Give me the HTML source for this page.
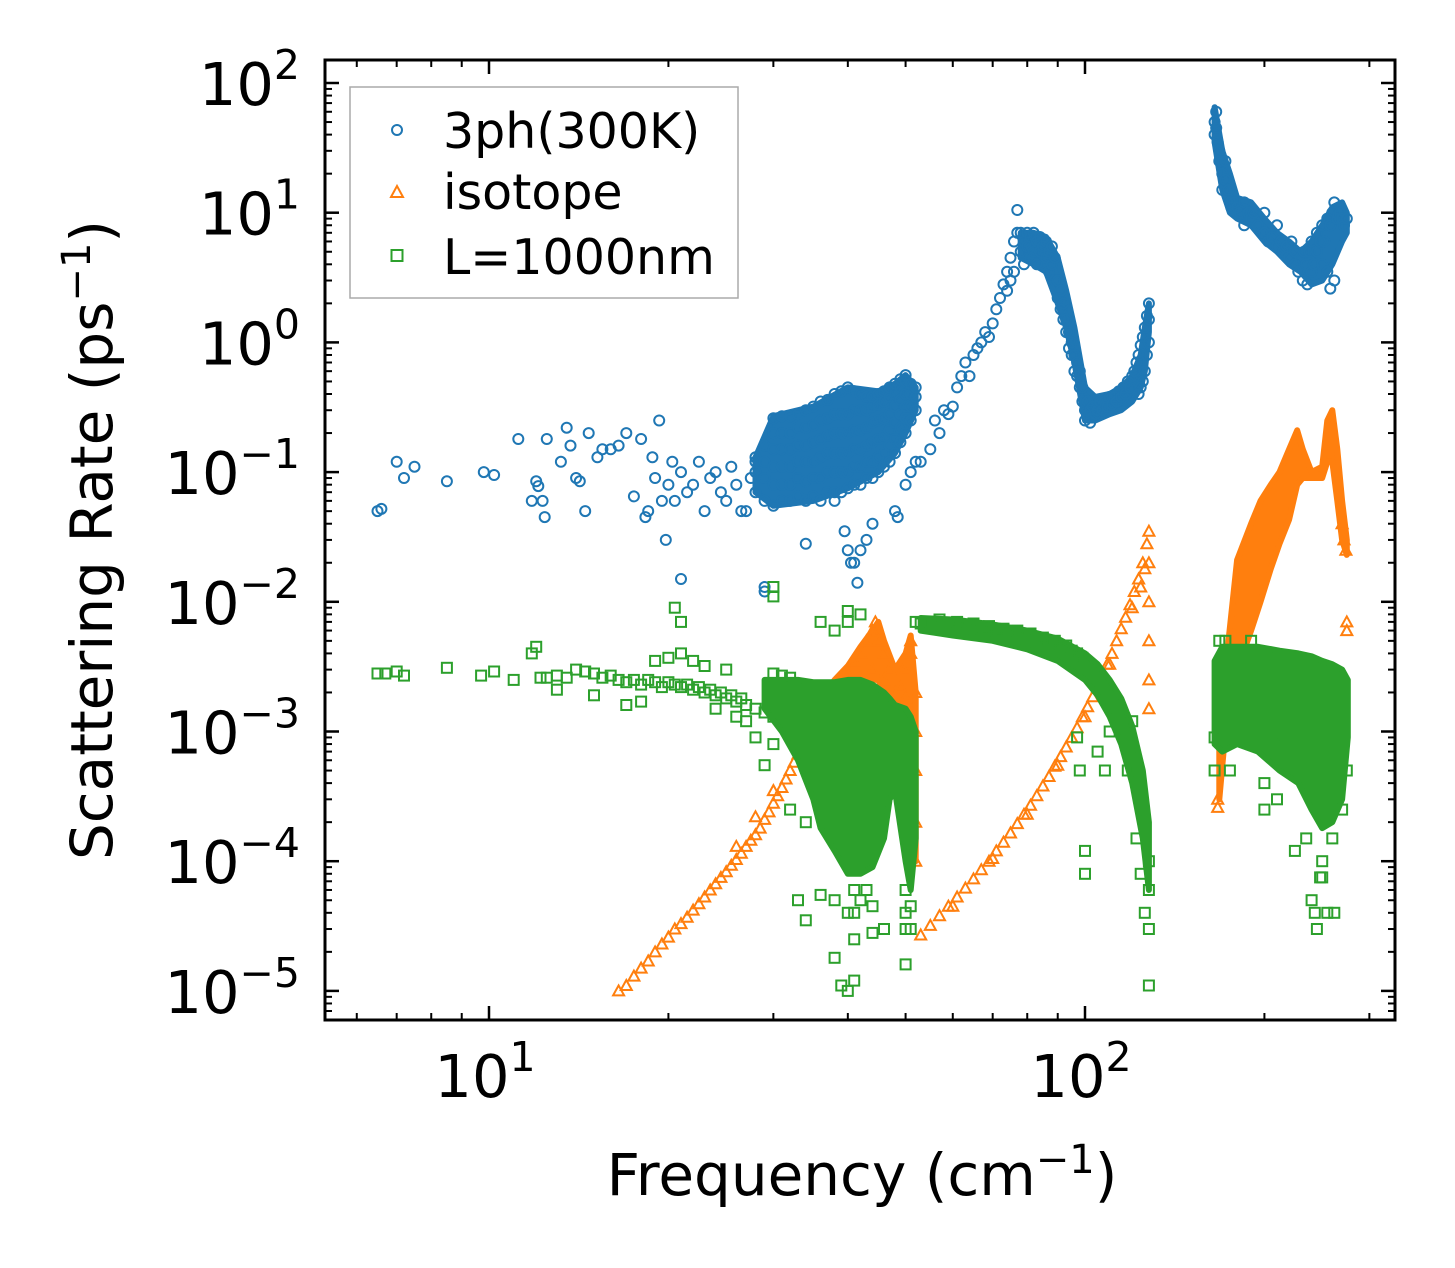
<!DOCTYPE html>
<html><head><meta charset="utf-8">
<style>
html,body{margin:0;padding:0;background:#fff;}
svg{display:block;font-family:"DejaVu Sans","Liberation Sans",sans-serif;}
</style></head>
<body>
<svg id="chart" width="1455" height="1268" viewBox="0 0 1455 1268">
<g id="marks"></g>
<g id="axes"></g>
<text x="862" y="1195" font-size="58" text-anchor="middle">Frequency (cm<tspan dy="-22" font-size="40">−1</tspan><tspan dy="22">)</tspan></text>
<text transform="translate(112,540) rotate(-90)" font-size="58" text-anchor="middle">Scattering Rate (ps<tspan dy="-22" font-size="40">−1</tspan><tspan dy="22">)</tspan></text>
<g>
<rect x="350" y="87" width="388" height="211" fill="#fff" fill-opacity="0.8" stroke="#aaa" stroke-width="1.5"/>
<circle cx="397" cy="130" r="5" fill="none" stroke="#1f77b4" stroke-width="2"/>
<text x="443" y="148" font-size="49">3ph(300K)</text>
<path d="M391,197 L403,197 L397,186 Z" fill="none" stroke="#ff7f0e" stroke-width="2"/>
<text x="443" y="209" font-size="49">isotope</text>
<rect x="391.5" y="250" width="11" height="11" fill="none" stroke="#2ca02c" stroke-width="2"/>
<text x="443" y="274" font-size="49">L=1000nm</text>
</g>
</svg>
<script>
// ---- data ----
const xTickValues = [10, 100];
const xTickLabels = ["1", "2"];
const yTickValues = [1e2, 1e1, 1e0, 1e-1, 1e-2, 1e-3, 1e-4, 1e-5];
const yTickLabels = ["2", "1", "0", "−1", "−2", "−3", "−4", "−5"];

// dense regions: [frequency, low rate, high rate]
const blueBand1 = [[28,0.07,0.13],[30,0.055,0.27],[35,0.06,0.32],[40,0.075,0.45],[45,0.1,0.42],[48,0.14,0.48],[50,0.2,0.56],[52,0.3,0.45]];
const blueBand2 = [[78,4.5,7],[82,4,7],[86,3.5,6.5],[90,2,4.5],[93,1.3,2.5],[96,0.7,1.3],[100,0.25,0.45],[104,0.25,0.38],[110,0.28,0.4],[115,0.3,0.45],[120,0.35,0.55],[124,0.45,0.8],[126,0.6,1.3],[128,1.2,2.0]];
const blueBand3 = [[165,35,65],[170,15,30],[175,10,20],[180,9,13],[190,8,12],[200,6,9],[210,5,7],[220,4,6],[230,3.5,5],[240,2.8,6],[250,3,8],[260,4,11],[270,6,12],[275,7,10]];
const orangeBand1 = [[34,6e-4,9e-4],[36,1.1e-3,1.8e-3],[38,1.4e-3,2.5e-3],[40,1.7e-3,3.2e-3],[42,2e-3,4.5e-3],[44,2.5e-3,6e-3],[45,2.5e-3,7e-3],[46,2e-3,5e-3],[48,1.4e-3,3e-3],[50,1.6e-3,4e-3],[51,1e-3,5.5e-3],[52,1e-4,2e-3]];
const orangeBand3 = [[168,3e-4,1e-3],[172,1e-3,3e-3],[180,3e-3,2.1e-2],[190,6e-3,4e-2],[197,1e-2,6e-2],[205,1.8e-2,8e-2],[212,2.8e-2,1e-1],[220,4.3e-2,1.5e-1],[227,8e-2,2.1e-1],[232,9e-2,1.5e-1],[240,9e-2,1e-1],[250,9e-2,1.1e-1],[255,1.2e-1,2.5e-1],[260,1.2e-1,3e-1],[265,6e-2,1.5e-1],[270,3e-2,6e-2],[275,2.3e-2,3e-2]];
const greenBand1 = [[29,1.5e-3,2.5e-3],[31,1e-3,2.5e-3],[33,6e-4,2.5e-3],[35,3e-4,2.4e-3],[36,1.8e-4,2.4e-3],[38,1.2e-4,2.4e-3],[40,8e-5,2.5e-3],[42,8e-5,2.5e-3],[44,9e-5,2.3e-3],[46,1.5e-4,2e-3],[47,3e-4,1.8e-3],[48,3.5e-4,1.6e-3],[50,1e-4,1.5e-3],[51,6e-5,1.3e-3],[52,1.5e-4,1e-3]];
const greenBand2 = [[53,6e-3,7.5e-3],[60,5.5e-3,7.3e-3],[70,5e-3,6.7e-3],[80,4.3e-3,6e-3],[90,3.5e-3,5.2e-3],[100,2.5e-3,4e-3],[105,1.9e-3,3.3e-3],[110,1.3e-3,2.5e-3],[115,8e-4,1.8e-3],[120,4e-4,1.1e-3],[125,1.5e-4,5e-4],[128,6e-5,2e-4]];
const greenBand3 = [[165,8e-4,3.5e-3],[170,7e-4,4.5e-3],[180,8e-4,4.5e-3],[195,7e-4,4.5e-3],[212,5e-4,4.2e-3],[228,4e-4,4e-3],[240,2.5e-4,3.8e-3],[250,1.8e-4,3.5e-3],[260,2e-4,3.3e-3],[270,3e-4,3e-3],[276,9e-4,2.5e-3]];

const bluePoints = [[6.5,0.05],[6.6,0.052],[7,0.12],[7.2,0.09],[7.5,0.11],[8.5,0.085],[9.8,0.1],[10.2,0.095],[11.2,0.18],[11.8,0.06],[12,0.085],[12.1,0.078],[12.3,0.06],[12.4,0.045],[12.5,0.18],[13.2,0.12],[13.5,0.22],[13.7,0.16],[14,0.09],[14.2,0.085],[14.5,0.05],[14.7,0.2],[15.2,0.13],[15.5,0.15],[16,0.15],[16.5,0.16],[17,0.2],[17.5,0.065],[18,0.18],[18.3,0.045],[18.5,0.05],[18.8,0.13],[19,0.09],[19.3,0.25],[19.5,0.06],[19.8,0.03],[20,0.08],[20.3,0.12],[20.5,0.06],[21,0.1],[21,0.015],[21.5,0.07],[22,0.08],[22.5,0.12],[23,0.05],[23.5,0.09],[24,0.1],[24.5,0.07],[25,0.06],[25.5,0.11],[26,0.08],[26.5,0.05],[27,0.05],[27.5,0.09],[28,0.12],[29,0.012],[29,0.013],[34,0.028],[38,0.06],[39.5,0.035],[40,0.025],[40.5,0.02],[41,0.02],[41.5,0.014],[42,0.025],[43,0.03],[44,0.04],[48,0.05],[48.5,0.045],[50,0.08],[51,0.1],[52,0.12],[53,0.12],[55,0.15],[56,0.25],[57,0.2],[58,0.3],[59,0.28],[60,0.32],[61,0.45],[62,0.55],[63,0.7],[64,0.55],[65,0.8],[66,0.9],[67,1.0],[68,1.2],[69,1.1],[70,1.4],[71,1.8],[72,2.2],[73,2.8],[74,3.5],[74,2.5],[75,4.5],[75,3],[76,6],[76,3.5],[77,10.5],[77,7],[78,7],[78,5],[79,6],[79,4],[80,5.5],[80,7],[81,6.5],[81,4.5],[82,5],[82,7],[83,6],[83,4],[84,5],[84,6.5],[85,5.5],[85,4],[86,6],[86,4.5],[87,5],[87,3.5],[88,4],[88,5.5],[89,3],[89,4.5],[90,3],[90,2.2],[91,2.5],[91,1.8],[92,2],[92,1.5],[93,1.5],[93,1.2],[94,1.2],[94,0.9],[95,1.0],[95,0.8],[96,0.8],[96,0.6],[97,0.7],[97,0.55],[98,0.6],[98,0.45],[99,0.45],[99,0.35],[100,0.3],[100,0.25],[101,0.28],[101,0.35],[102,0.3],[102,0.24],[103,0.32],[104,0.28],[105,0.3],[106,0.35],[107,0.3],[108,0.35],[109,0.32],[110,0.38],[111,0.33],[112,0.38],[113,0.35],[114,0.42],[115,0.38],[116,0.45],[117,0.4],[118,0.5],[119,0.45],[120,0.55],[121,0.6],[122,0.7],[123,0.8],[124,0.95],[125,1.1],[126,1.3],[127,1.6],[128,2.0],[128,1.5],[128,1.0],[127,0.8],[126,0.6],[125,0.5],[124,0.45],[123,0.4],[165,40],[165,50],[166,60],[166,45],[167,35],[168,30],[168,25],[170,20],[170,15],[172,25],[172,18],[174,15],[175,12],[176,11],[178,12],[180,11],[182,10],[185,12],[185,8],[188,10],[190,9],[192,10],[195,8],[198,7],[200,7],[200,10],[203,6],[206,6.5],[210,5.5],[210,8],[213,6],[215,5],[218,5.5],[220,4.5],[222,6],[225,4],[225,5],[228,3.5],[230,4.5],[232,3],[233,5],[235,4],[236,2.8],[238,5],[240,3.5],[240,6],[242,4],[245,5],[245,7],[248,6],[250,8],[250,4],[252,6],[255,9],[255,3.5],[258,8],[258,2.6],[260,10],[262,12],[262,3],[265,9],[268,10],[270,9],[272,8],[275,9]];
const blueCloud = [[28,[0.07,0.1,0.13]],[29,[0.06,0.09,0.12,0.16]],[30,[0.055,0.08,0.11,0.15,0.2,0.26]],[31,[0.06,0.08,0.11,0.15,0.2,0.27]],[32,[0.06,0.08,0.11,0.15,0.2,0.27]],[33,[0.065,0.09,0.12,0.16,0.22,0.28]],[34,[0.06,0.085,0.12,0.16,0.22,0.3]],[35,[0.065,0.09,0.12,0.17,0.23,0.32]],[36,[0.06,0.09,0.13,0.18,0.25,0.35]],[37,[0.07,0.1,0.14,0.19,0.26,0.36]],[38,[0.07,0.1,0.14,0.2,0.28,0.4]],[39,[0.07,0.1,0.14,0.2,0.28,0.42]],[40,[0.075,0.1,0.14,0.2,0.28,0.45]],[41,[0.08,0.11,0.15,0.21,0.3,0.42]],[42,[0.08,0.11,0.15,0.21,0.3,0.4]],[43,[0.09,0.12,0.16,0.22,0.3,0.38]],[44,[0.09,0.12,0.17,0.24,0.32,0.38]],[45,[0.1,0.13,0.18,0.25,0.33,0.4]],[46,[0.11,0.14,0.19,0.26,0.35,0.42]],[47,[0.12,0.16,0.21,0.28,0.38,0.45]],[48,[0.14,0.18,0.24,0.32,0.4,0.48]],[49,[0.17,0.22,0.28,0.36,0.45,0.52]],[50,[0.2,0.26,0.32,0.4,0.5,0.56]],[51,[0.25,0.32,0.4,0.48]],[52,[0.3,0.38,0.45]]];

const orangePoints = [[16.5,1e-5],[17,1.1e-5],[17.5,1.3e-5],[18,1.5e-5],[18.5,1.7e-5],[19,2e-5],[19.5,2.3e-5],[20,2.6e-5],[20.5,3e-5],[21,3.3e-5],[21.5,3.7e-5],[22,4.2e-5],[22.5,4.7e-5],[23,5.3e-5],[23.5,6e-5],[24,6.7e-5],[24.5,7.5e-5],[25,8.3e-5],[25.5,9.3e-5],[26,1.03e-4],[26.5,1.15e-4],[27,1.3e-4],[27.5,1.45e-4],[28,1.6e-4],[28.5,1.8e-4],[29,2.1e-4],[29.5,2.4e-4],[30,2.8e-4],[30.5,3.2e-4],[31,3.7e-4],[31.5,4.3e-4],[32,5e-4],[32.5,5.8e-4],[33,6.7e-4],[33.5,7.8e-4],[34,9e-4],[34.5,1.05e-3],[35,1.2e-3],[35.5,1.4e-3],[36,1.6e-3],[36.5,1.8e-3],[37,2e-3],[38,2.3e-3],[39,2.6e-3],[40,3e-3],[41,3.5e-3],[42,4e-3],[43,5e-3],[44,6e-3],[44.5,7e-3],[45,6e-3],[45,5e-3],[46,4e-3],[47,3e-3],[48,2e-3],[49,2.2e-3],[50,3e-3],[51,5e-3],[51,4e-3],[52,2e-3],[52,1e-3],[52,5e-4],[52,2e-4],[52,1e-4],[38,1.5e-3],[40,1.8e-3],[42,2.2e-3],[44,3e-3],[46,2.5e-3],[48,1.5e-3],[50,1.8e-3],[36,1.2e-3],[34,6e-4],[30,3.5e-4],[28,2.2e-4],[26,1.3e-4],
[53,2.7e-5],[55,3.2e-5],[57,3.8e-5],[59,4.5e-5],[61,5.3e-5],[63,6.2e-5],[65,7.3e-5],[67,8.6e-5],[69,1e-4],[71,1.2e-4],[73,1.4e-4],[75,1.65e-4],[77,1.95e-4],[79,2.3e-4],[81,2.7e-4],[83,3.2e-4],[85,3.8e-4],[87,4.5e-4],[89,5.4e-4],[91,6.4e-4],[93,7.6e-4],[95,9e-4],[97,1.07e-3],[99,1.3e-3],[101,1.55e-3],[103,1.85e-3],[105,2.2e-3],[107,2.7e-3],[109,3.3e-3],[111,4e-3],[113,5e-3],[115,6.2e-3],[117,7.6e-3],[119,9.5e-3],[121,1.2e-2],[123,1.5e-2],[125,2e-2],[127,2.8e-2],[128,3.5e-2],[128,2e-2],[128,1e-2],[128,5e-3],[128,2.5e-3],[128,1.5e-3],[60,4.5e-5],[70,1.05e-4],[80,2.3e-4],[90,5.5e-4],[100,1.3e-3],[110,3.3e-3],[120,9e-3],[124,1.3e-2],[126,1.8e-2],
[167,2.6e-4],[167,3e-4],[270,4e-2],[272,3e-2],[274,2.5e-2],[275,7e-3],[275,6e-3]];

const greenPoints = [[6.5,2.8e-3],[6.7,2.8e-3],[7,2.9e-3],[7.2,2.7e-3],[8.5,3.1e-3],[9.7,2.7e-3],[10.2,2.9e-3],[11,2.5e-3],[11.8,4e-3],[12,4.5e-3],[12.2,2.6e-3],[12.5,2.6e-3],[13,2.7e-3],[13.5,2.6e-3],[14,3e-3],[14.5,2.9e-3],[15,2.8e-3],[15.5,2.6e-3],[16,2.7e-3],[16.5,2.5e-3],[17,2.4e-3],[17.5,2.5e-3],[18,2.3e-3],[18.5,2.5e-3],[19,2.4e-3],[19.5,2.2e-3],[20,2.4e-3],[20.5,2.3e-3],[21,2.2e-3],[21.5,2.3e-3],[22,2.1e-3],[22.5,2.2e-3],[23,2e-3],[23.5,2.1e-3],[24,1.9e-3],[24.5,2e-3],[25,1.8e-3],[25.5,1.9e-3],[26,1.7e-3],[26.5,1.8e-3],[27,1.6e-3],[28,1.5e-3],[29,1.4e-3],[30,1.3e-3],[20,3.7e-3],[21,4e-3],[22,3.5e-3],[23,3.2e-3],[19,3.5e-3],[24,1.5e-3],[25,3e-3],[26,1.3e-3],[27,1.2e-3],[28,9e-4],[29,5.5e-4],[30,8e-4],[30,2.8e-3],[31,2.7e-3],[32,2.6e-3],[20.5,9e-3],[21,7e-3],[17,1.6e-3],[18,1.7e-3],[15,1.9e-3],[13,2.1e-3],
[34,3.5e-5],[38,1.8e-5],[39,1.1e-5],[40,1e-5],[41,1.2e-5],[41,2.5e-5],[44,2.8e-5],[46,3e-5],[50,1.6e-5],[50,3e-5],[36,5.5e-5],[33,5e-5],[30,1.1e-2],[30,1.3e-2],[36,7e-3],[38,6e-3],[40,7e-3],[40,8.5e-3],[42,8e-3],[38,5e-5],[40,4e-5],[41,6e-5],[42,5e-5],[50,4e-5],[51,3e-5],[32,2.5e-4],[34,2e-4],[41,4e-5],[43,6e-5],[44,4.5e-5],[51,4.5e-5],[50,6e-5],
[52,7e-3],[53,6.8e-3],[55,7e-3],[57,7.3e-3],[59,6.8e-3],[61,7e-3],[63,6.5e-3],[65,6.8e-3],[67,6.2e-3],[69,6.5e-3],[71,6e-3],[73,6.2e-3],[75,5.8e-3],[77,6e-3],[79,5.5e-3],[81,5.7e-3],[83,5.2e-3],[85,5.3e-3],[87,4.8e-3],[89,5e-3],[91,4.5e-3],[93,4.6e-3],[95,4.2e-3],[97,4e-3],[99,3.7e-3],[128,1e-4],[128,6e-5],[128,1.1e-5],[128,3e-5],[97,9e-4],[98,5e-4],[100,8e-5],[100,1.2e-4],[105,7e-4],[108,5e-4],[110,1e-3],[118,5e-4],[122,1.5e-4],[124,8e-5],[126,4e-5],[120,1.2e-3],
[168,5e-3],[172,5e-3],[190,5e-3],[175,5e-4],[165,5e-4],[200,4e-4],[210,3e-4],[240,5e-5],[245,3e-5],[248,7.5e-5],[250,7.5e-5],[255,4e-5],[262,4e-5],[243,4e-5],[165,9e-4],[200,2.5e-4],[215,8e-4],[225,1.2e-4],[235,1.5e-4],[250,1e-4],[260,1.5e-4],[270,2.5e-4],[275,5e-4]];

// ---- axes ----
const L=325,R=1395,T=60,B=1020;
const X0=489, XDEC=596, Y0=83, YDEC=129.7;
function xs(f){return X0+(Math.log10(f)-1)*XDEC;}
function ys(r){return Y0+(2-Math.log10(r))*YDEC;}
const NS="http://www.w3.org/2000/svg";
const marks=document.getElementById('marks');
const axes=document.getElementById('axes');

function band(rows,color,name){
  const up=rows.map(r=>xs(r[0]).toFixed(1)+','+ys(r[2]).toFixed(1));
  const lo=rows.slice().reverse().map(r=>xs(r[0]).toFixed(1)+','+ys(r[1]).toFixed(1));
  const p=document.createElementNS(NS,'polygon');
  p.setAttribute('points',up.concat(lo).join(' '));
  p.setAttribute('fill',color);p.setAttribute('stroke',color);p.setAttribute('stroke-width','6');p.setAttribute('stroke-linejoin','round');
  
  
  marks.appendChild(p);
}
function circle(f,r){
  const c=document.createElementNS(NS,'circle');
  c.setAttribute('cx',xs(f).toFixed(1));c.setAttribute('cy',ys(r).toFixed(1));
  c.setAttribute('r','5');c.setAttribute('fill','none');c.setAttribute('stroke','#1f77b4');c.setAttribute('stroke-width','2');
  
  
  marks.appendChild(c);
}
function tri(f,r){
  const x=xs(f),y=ys(r);
  const p=document.createElementNS(NS,'path');
  p.setAttribute('d',`M${(x-5.5).toFixed(1)},${(y+4.5).toFixed(1)} L${(x+5.5).toFixed(1)},${(y+4.5).toFixed(1)} L${x.toFixed(1)},${(y-5.5).toFixed(1)} Z`);
  p.setAttribute('fill','none');p.setAttribute('stroke','#ff7f0e');p.setAttribute('stroke-width','2');
  
  
  marks.appendChild(p);
}
function sq(f,r){
  const q=document.createElementNS(NS,'rect');
  q.setAttribute('x',(xs(f)-5).toFixed(1));q.setAttribute('y',(ys(r)-5).toFixed(1));
  q.setAttribute('width','10');q.setAttribute('height','10');
  q.setAttribute('fill','none');q.setAttribute('stroke','#2ca02c');q.setAttribute('stroke-width','2');
  
  
  marks.appendChild(q);
}
band(blueBand1,'#1f77b4','3ph-dense-region');
band(blueBand2,'#1f77b4','3ph-dense-region');
band(blueBand3,'#1f77b4','3ph-dense-region');
bluePoints.forEach(p=>circle(p[0],p[1]));
blueCloud.forEach(row=>row[1].forEach(r=>circle(row[0],r)));
band(orangeBand1,'#ff7f0e','isotope-dense-region');
band(orangeBand3,'#ff7f0e','isotope-dense-region');
orangePoints.forEach(p=>tri(p[0],p[1]));
band(greenBand1,'#2ca02c','boundary-dense-region');
band(greenBand2,'#2ca02c','boundary-dense-region');
band(greenBand3,'#2ca02c','boundary-dense-region');
greenPoints.forEach(p=>sq(p[0],p[1]));

function line(x1,y1,x2,y2,w){
  const l=document.createElementNS(NS,'line');
  l.setAttribute('x1',x1);l.setAttribute('y1',y1);l.setAttribute('x2',x2);l.setAttribute('y2',y2);
  l.setAttribute('stroke','#000');l.setAttribute('stroke-width',w);
  
  
  axes.appendChild(l);
}
const fr=document.createElementNS(NS,'rect');
fr.setAttribute('x',L);fr.setAttribute('y',T);fr.setAttribute('width',R-L);fr.setAttribute('height',B-T);
fr.setAttribute('fill','none');fr.setAttribute('stroke','#000');fr.setAttribute('stroke-width','3');


axes.appendChild(fr);
const xMinor=[6,7,8,9,20,30,40,50,60,70,80,90,200,300];
xMinor.forEach(v=>{const x=xs(v);line(x,B,x,B-7,2);line(x,T,x,T+7,2);});
xTickValues.forEach((v,i)=>{
  const x=xs(v);line(x,B,x,B-14,2.5);line(x,T,x,T+14,2.5);
  const t=document.createElementNS(NS,'text');
  t.setAttribute('x',x-4);t.setAttribute('y',1097);t.setAttribute('font-size','59');t.setAttribute('text-anchor','middle');
  t.innerHTML='10<tspan dy="-26" font-size="41">'+xTickLabels[i]+'</tspan>';
  
  
  axes.appendChild(t);
});
yTickValues.forEach((v,i)=>{
  const y=ys(v);line(L,y,L+14,y,2.5);line(R,y,R-14,y,2.5);
  if(i<yTickValues.length-1){for(let m=2;m<10;m++){const yy=ys(v/10*m);line(L,yy,L+7,yy,2);line(R,yy,R-7,yy,2);}}
  const t=document.createElementNS(NS,'text');
  t.setAttribute('x',300);t.setAttribute('y',y+22);t.setAttribute('font-size','59');t.setAttribute('text-anchor','end');
  t.innerHTML='10<tspan dy="-26" font-size="41">'+yTickLabels[i]+'</tspan>';
  
  
  axes.appendChild(t);
});
for(let m=6;m<10;m++){const y2=ys(1e-6*m);if(y2<B){line(L,y2,L+7,y2,2);line(R,y2,R-7,y2,2);}}
</script>
</body></html>
